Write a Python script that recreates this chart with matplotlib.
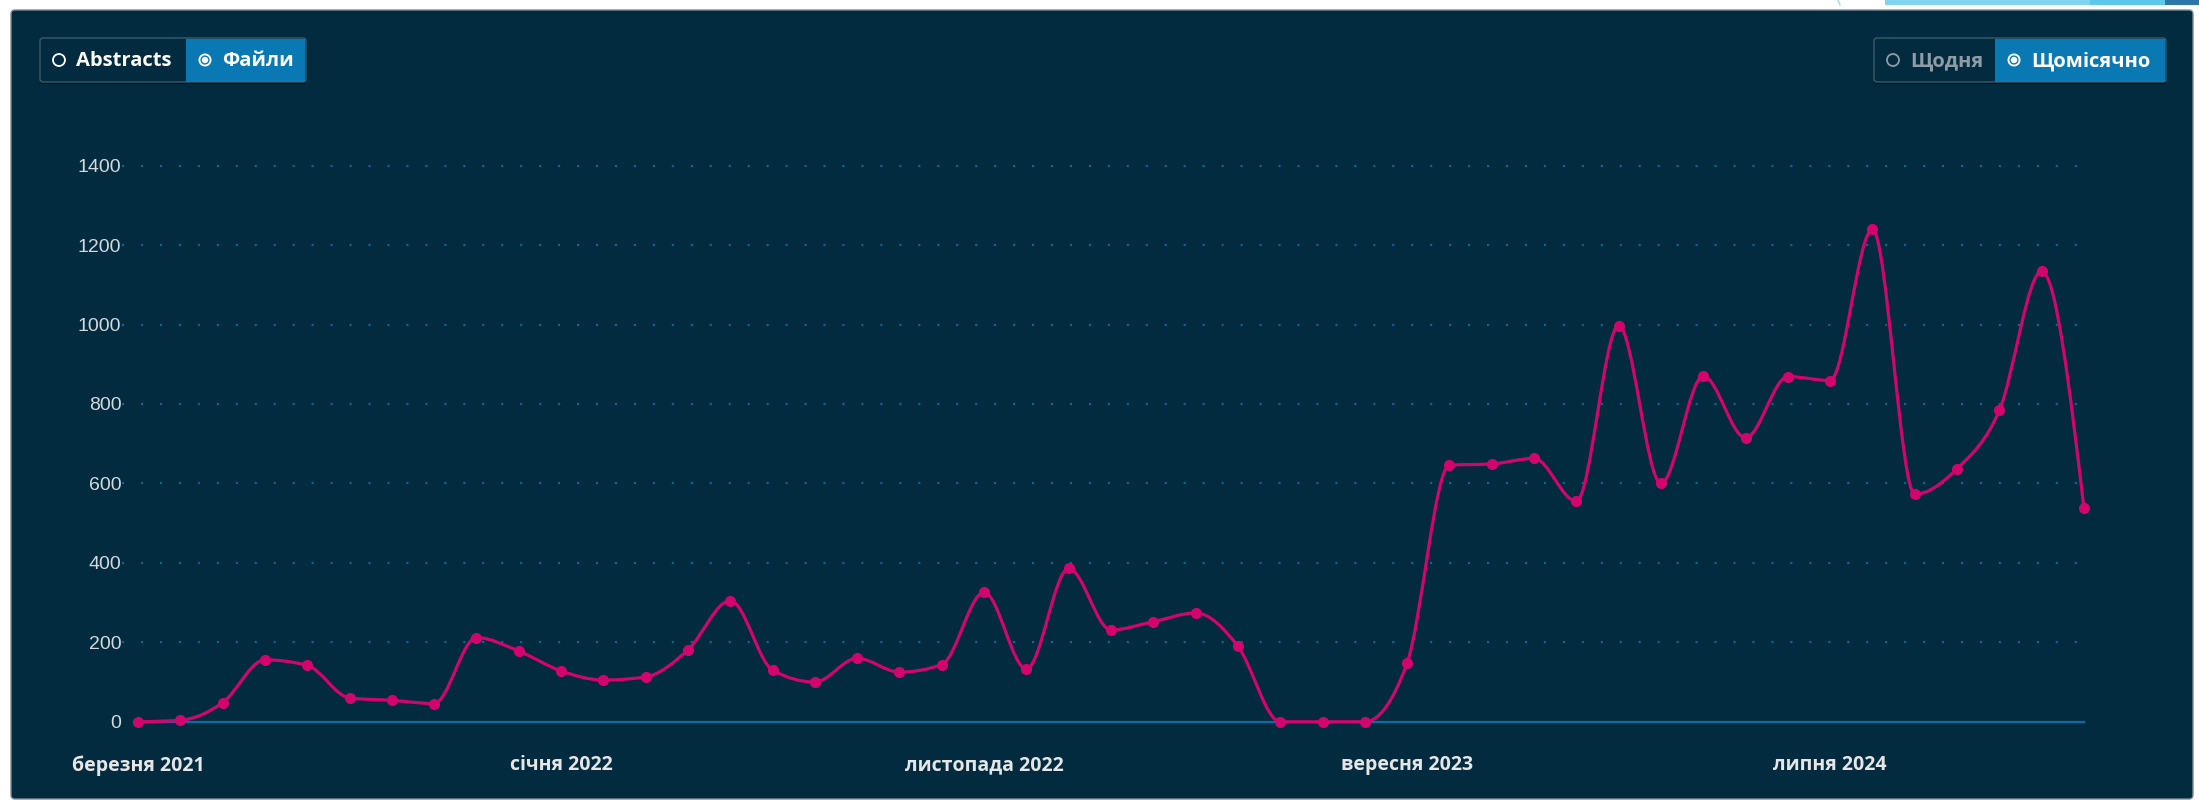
import matplotlib
matplotlib.use("Agg")
import matplotlib.pyplot as plt
from matplotlib.patches import FancyBboxPatch, Rectangle, Circle, PathPatch
from matplotlib.path import Path
import numpy as np
import pandas as pd

plt.rcParams['font.family'] = ['Open Sans', 'DejaVu Sans']

# monthly file counts, March 2021 .. January 2025
files = [0, 4, 48, 156, 142, 60, 54, 46, 212, 178, 128, 105, 113, 181, 305,
         130, 100, 160, 125, 144, 326, 133, 386, 231, 252, 274, 190, 0, 0, 0,
         148, 646, 649, 663, 555, 997, 600, 870, 715, 869, 859, 1240, 573, 637,
         784, 1134, 537]
months = pd.date_range("2021-03-01", periods=len(files), freq="MS")
tick_dates = ["2021-03-01", "2022-01-01", "2022-11-01", "2023-09-01", "2024-07-01"]
tick_labels = ["березня 2021", "січня 2022", "листопада 2022", "вересня 2023", "липня 2024"]
yticks = [0, 200, 400, 600, 800, 1000, 1200, 1400]

card = '#022b3f'
pink = '#d4046e'
grid_c = '#0a689a'
W, H = 2199, 806

fig = plt.figure(figsize=(W / 100, H / 100), dpi=100)
fig.patch.set_facecolor('white')

# background axes in pixel coords (y down)
bg = fig.add_axes([0, 0, 1, 1], zorder=0)
bg.set_xlim(0, W)
bg.set_ylim(H, 0)
bg.axis('off')

# bits of the page above the card
bg.plot([1838, 1840], [0, 5], color='#9fdcf2', lw=1)
bg.add_patch(Rectangle((1885, 0), 205, 5, color='#7fd3ee', lw=0))
bg.add_patch(Rectangle((2090, 0), 75, 5, color='#5ec8ec', lw=0))
bg.add_patch(Rectangle((2165, 0), 34, 5, color='#2f76a8', lw=0))
bg.add_patch(FancyBboxPatch((11, 10), 2182, 789, boxstyle="round,pad=0,rounding_size=4",
                            fc=card, ec='#7d8d97', lw=1))


def button_group(x0, xm, x1, left_txt, right_txt, left_col):
    y0, y1 = 38, 82
    bg.add_patch(FancyBboxPatch((x0, y0 + 2), x1 - x0, y1 - y0, boxstyle="round,pad=0,rounding_size=3",
                                fc='#01151f', ec='none'))
    bg.add_patch(FancyBboxPatch((x0, y0), x1 - x0, y1 - y0, boxstyle="round,pad=0,rounding_size=3",
                                fc=card, ec='#3f5a6a', lw=1))
    bg.add_patch(Rectangle((xm, y0 + 0.5), x1 - xm - 1, y1 - y0 - 1, fc='#0a78b2', ec='none'))
    cy = (y0 + y1) / 2
    # unselected radio
    bg.add_patch(Circle((x0 + 19, cy), 6, fc='none', ec=left_col, lw=1.3))
    bg.text(x0 + 36, cy + 1, left_txt, color=left_col, fontsize=14.5, fontweight='bold',
            va='center', ha='left')
    # selected radio
    bg.add_patch(Circle((xm + 19, cy), 6.5, fc='white', ec='none'))
    bg.add_patch(Circle((xm + 19, cy), 4.6, fc='#0a78b2', ec='none'))
    bg.add_patch(Circle((xm + 19, cy), 3.2, fc='white', ec='none'))
    bg.text(xm + 36, cy + 1, right_txt, color='white', fontsize=14.5, fontweight='bold',
            va='center', ha='left')


button_group(40, 186, 306, "Abstracts", "Файли", 'white')
button_group(1874, 1995, 2166, "Щодня", "Щомісячно", '#8d9ca5')

# chart axes
x0_px, x1_px = 138, 2084
yb_px, yt_px = 721.8, 165.6
ax = fig.add_axes([x0_px / W, (H - yb_px) / H, (x1_px - x0_px) / W, (yb_px - yt_px) / H], zorder=1)
ax.patch.set_alpha(0)
for s in ax.spines.values():
    s.set_visible(False)

x = np.arange(len(files))
y = np.array(files, dtype=float)
ax.set_xlim(x[0], x[-1])
ax.set_ylim(0, 1400)

for v in yticks[1:]:
    ax.axhline(v, xmin=-0.0082, xmax=0.998, color=grid_c, lw=1.5, ls=(0, (1, 8.1)),
               zorder=1, clip_on=False)
ax.axhline(0, xmin=-0.002, xmax=1.0, color='#0a6ea6', lw=1.6, zorder=2, clip_on=False)

# monotone-x curve (as d3 draws it) through the points
n = len(x)
s = np.diff(y) / np.diff(x)
t = np.zeros(n)
for i in range(1, n - 1):
    s0, s1 = s[i - 1], s[i]
    p = (s0 + s1) / 2
    t[i] = (np.sign(s0) + np.sign(s1)) * min(abs(s0), abs(s1), 0.5 * abs(p))
t[0] = (3 * s[0] - t[1]) / 2
t[-1] = (3 * s[-1] - t[-2]) / 2
verts = [(x[0], y[0])]
codes = [Path.MOVETO]
for i in range(n - 1):
    d = (x[i + 1] - x[i]) / 3
    verts += [(x[i] + d, y[i] + d * t[i]), (x[i + 1] - d, y[i + 1] - d * t[i + 1]), (x[i + 1], y[i + 1])]
    codes += [Path.CURVE4] * 3
ax.add_patch(PathPatch(Path(verts, codes), fc='none', ec=pink, lw=2.3, zorder=3, clip_on=False))
ax.plot(x, y, 'o', color=pink, ms=7, zorder=4, clip_on=False)

ax.set_yticks(yticks)
ax.set_yticklabels([str(v) for v in yticks], color='#d3d9dd', fontsize=14,
                   family=['Liberation Sans', 'DejaVu Sans'])
tick_pos = [months.get_loc(pd.Timestamp(d)) for d in tick_dates]
ax.set_xticks(tick_pos)
ax.set_xticklabels(tick_labels, color='#e6e6e6', fontsize=14, fontweight='bold')
ax.tick_params(axis='y', length=0, pad=12)
ax.tick_params(axis='x', length=0, pad=24)

fig.savefig("out.png", dpi=100, facecolor=fig.get_facecolor())
